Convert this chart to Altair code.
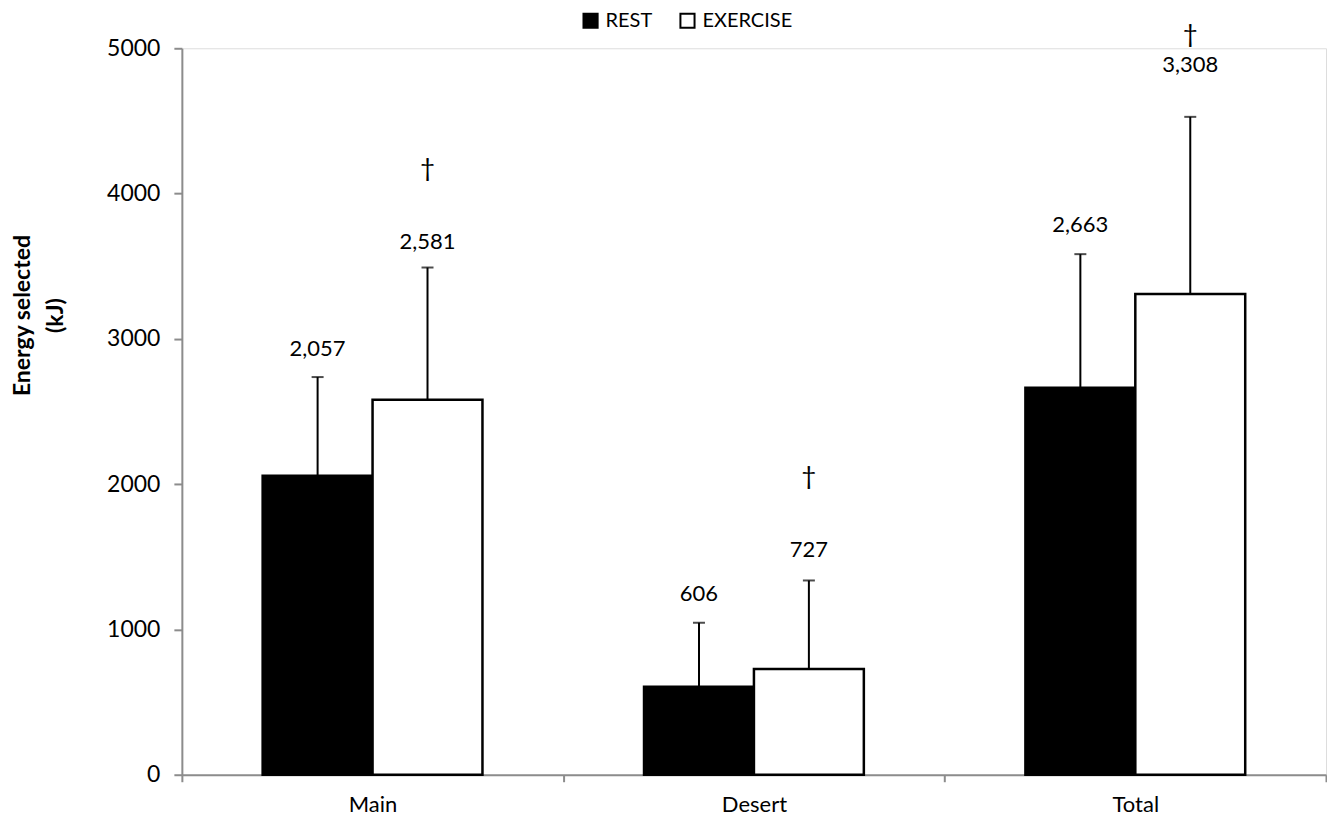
import altair as alt
import pandas as pd

categories = ["Main", "Desert", "Total"]
groups = ["REST", "EXERCISE"]
rest_means = [2057, 606, 2663]
exercise_means = [2581, 727, 3308]
rest_sd = [680, 440, 920]
exercise_sd = [910, 610, 1220]
rest_labels = ["2,057", "606", "2,663"]
exercise_labels = ["2,581", "727", "3,308"]
rest_label_y = [2930, 1245, 3783]
exercise_label_y = [3666, 1547, 4883]
dagger_y = [4168, 2050, 5089]
y_ticks = [0, 1000, 2000, 3000, 4000, 5000]

rows = []
for i, c in enumerate(categories):
    rows.append(dict(category=c, group="REST", mean=rest_means[i], upper=rest_means[i] + rest_sd[i],
                     label=rest_labels[i], label_y=rest_label_y[i], dagger=None, dagger_y=None))
    rows.append(dict(category=c, group="EXERCISE", mean=exercise_means[i], upper=exercise_means[i] + exercise_sd[i],
                     label=exercise_labels[i], label_y=exercise_label_y[i], dagger="\u2020", dagger_y=dagger_y[i]))
df = pd.DataFrame(rows)

FONT = "Lato"
AXIS_GREY = "#8c8c8c"

x = alt.X("category:N", sort=categories, title=None,
          scale=alt.Scale(paddingInner=0, paddingOuter=0),
          axis=alt.Axis(tickBand="extent", labelAngle=0, labelFontSize=22, labelFont=FONT,
                        labelColor="black", labelPadding=13, domainColor=AXIS_GREY, domainWidth=2,
                        tickColor=AXIS_GREY, tickWidth=2, tickSize=7))
xo = alt.XOffset("group:N", sort=groups, scale=alt.Scale(paddingInner=0, paddingOuter=0.735))
yscale = alt.Scale(domain=[0, 5000], nice=False)

base = alt.Chart(df)

bars = base.mark_bar(stroke="black", strokeWidth=2.5).encode(
    x=x, xOffset=xo,
    y=alt.Y("mean:Q", scale=yscale, title=["Energy selected", "(kJ)"],
            axis=alt.Axis(values=y_ticks, format="d", grid=False, labelFontSize=23, labelFont=FONT,
                          labelColor="black", labelPadding=14, domainColor=AXIS_GREY, domainWidth=2,
                          tickColor=AXIS_GREY, tickWidth=2, tickSize=8,
                          titleFont=FONT, titleFontSize=23, titleFontWeight="bold", titleColor="black",
                          titleAngle=270, titleAlign="center", titleBaseline="top",
                          titleX=-170, titleY=267, titleLineHeight=33)),
    fill=alt.Fill("group:N", sort=groups,
                  scale=alt.Scale(domain=groups, range=["black", "white"]),
                  legend=alt.Legend(title=None, orient="none", legendX=399, legendY=-38,
                                    direction="horizontal", symbolType="square", symbolSize=200,
                                    symbolStrokeColor="black", symbolStrokeWidth=2,
                                    labelFont=FONT, labelFontSize=20, labelColor="black",
                                    labelOffset=5, columnPadding=23, padding=0)),
)

err = base.mark_rule(color="black", strokeWidth=2).encode(
    x=x, xOffset=xo, y=alt.Y("mean:Q", scale=yscale), y2="upper:Q")

caps = base.mark_tick(color="black", thickness=2, size=12).encode(
    x=x, xOffset=xo, y=alt.Y("upper:Q", scale=yscale))

labels = base.mark_text(font=FONT, fontSize=22, color="black", baseline="middle").encode(
    x=x, xOffset=xo, y=alt.Y("label_y:Q", scale=yscale), text="label:N")

daggers = base.transform_filter("datum.dagger != null").mark_text(
    font=FONT, fontSize=26, color="black", baseline="middle").encode(
    x=x, xOffset=xo, y=alt.Y("dagger_y:Q", scale=yscale), text="dagger:N")

chart = alt.layer(bars, err, caps, labels, daggers).properties(
    width=1145, height=727, padding={"left": 4, "top": 2, "right": 0, "bottom": 0}
).configure_view(stroke=None).configure(background="white")

chart.save("out.html", embed_options={"renderer": "svg", "actions": False})
